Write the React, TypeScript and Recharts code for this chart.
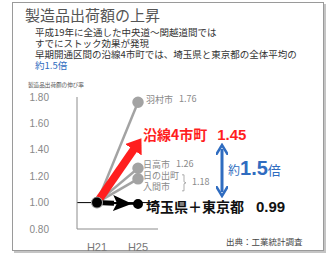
import { LineChart, Line, XAxis, YAxis, ReferenceLine, LabelList } from "recharts";

const years = ["H21", "H25"];
const hamura = [1.0, 1.76];
const ensen4 = [1.0, 1.45];
const hidaka = [1.0, 1.26];
const hinodeIruma = [1.0, 1.18];
const saitamaTokyo = [1.0, 0.99];
const yTicks = [0.8, 1.0, 1.2, 1.4, 1.6, 1.8];
const introLines = [
  "平成19年に全通した中央道〜関越道間では",
  "すでにストック効果が発現",
  "早期開通区間の沿線4市町では、埼玉県と東京都の全体平均の",
];

const data = years.map((year, i) => ({
  year,
  hamura: hamura[i],
  ensen4: ensen4[i],
  hidaka: hidaka[i],
  hinodeIruma: hinodeIruma[i],
  saitamaTokyo: saitamaTokyo[i],
  saitamaArrow: saitamaTokyo[i],
}));

const JP = '"Noto Sans CJK JP", "Noto Sans", sans-serif';
const SANS = '"Liberation Sans", Arial, sans-serif';
const GRAY = "#a3a3a3";
const RED = "#ff1e1e";
const BLUE = "#2f6cc0";

const grayLabel = (name: string, dx: number, dy: number) => (p: any) => {
  if (p.index !== 1) return null;
  return (
    <text x={p.x + dx} y={p.y + dy} fill="#8a8a8a" fontSize={9} fontFamily={JP} dominantBaseline="middle">
      {name}
      <tspan dx={6}>{Number(p.value).toFixed(2)}</tspan>
    </text>
  );
};

const groupLabel = (p: any) => {
  if (p.index !== 1) return null;
  return (
    <g fontFamily={JP} fill="#8a8a8a" fontSize={9}>
      <text x={p.x + 5} y={p.y - 2} dominantBaseline="middle">日の出町</text>
      <text x={p.x + 5} y={p.y + 9} dominantBaseline="middle">入間市</text>
      <path
        d={`M${p.x + 44},${p.y - 4} L${p.x + 46},${p.y - 4} L${p.x + 46},${p.y + 3} L${p.x + 48},${p.y + 4} L${p.x + 46},${p.y + 5} L${p.x + 46},${p.y + 12} L${p.x + 44},${p.y + 12}`}
        stroke="#999"
        fill="none"
        strokeWidth={0.8}
      />
      <text x={p.x + 54} y={p.y + 4} dominantBaseline="middle">{Number(p.value).toFixed(2)}</text>
    </g>
  );
};

const redLabel = (p: any) => {
  if (p.index !== 1) return null;
  return (
    <text x={p.x + 5} y={p.y - 7} fill={RED} fontSize={14} fontWeight="bold" fontFamily={JP} dominantBaseline="middle">
      沿線4市町
      <tspan dx={10} fontFamily={SANS} fontSize={15}>{Number(p.value).toFixed(2)}</tspan>
    </text>
  );
};

const blackLabel = (p: any) => {
  if (p.index !== 1) return null;
  return (
    <text x={p.x + 8} y={p.y + 4} fill="#111" fontSize={14} fontWeight="bold" fontFamily={JP} dominantBaseline="middle">
      埼玉県＋東京都
      <tspan dx={12} fontFamily={SANS} fontSize={15}>{Number(p.value).toFixed(2)}</tspan>
    </text>
  );
};

const redStartDot = (p: any) =>
  p.index === 0 ? <circle key="rs" cx={p.cx} cy={p.cy} r={4} fill={RED} /> : <g key={`r${p.index}`} />;

export default function App() {
  return (
    <div style={{ position: "absolute", left: 0, top: 0, width: 329, height: 254, background: "#fff", overflow: "hidden" }}>
      <svg width={0} height={0} style={{ position: "absolute" }}>
        <defs>
          <marker id="redHead" markerUnits="userSpaceOnUse" markerWidth={22} markerHeight={20} viewBox="0 0 22 20" refX={8} refY={10} orient="auto">
            <path d="M0,0 L14,10 L0,20 Z" fill={RED} />
          </marker>
          <marker id="blackHead" markerUnits="userSpaceOnUse" markerWidth={26} markerHeight={18} viewBox="0 0 26 18" refX={25} refY={9} orient="auto">
            <path d="M0,1 L19,9 L0,17 L4,9 Z" fill="#000" />
          </marker>
          <marker id="blueHead" markerUnits="userSpaceOnUse" markerWidth={12} markerHeight={12} viewBox="0 0 12 12" refX={6} refY={6} orient="auto-start-reverse">
            <path d="M0,0 L10,6 L0,12" fill="none" stroke={BLUE} strokeWidth={2.5} />
          </marker>
        </defs>
      </svg>

      <div
        style={{
          position: "absolute",
          left: 12,
          top: 2,
          width: 310,
          height: 247,
          border: "1px solid #9a9a9a",
          boxShadow: "2px 2px 0 #c4c4c4",
        }}
      />

      <div style={{ position: "absolute", left: 25, top: 5, fontFamily: JP, fontSize: 15, color: "#555", lineHeight: "20px", whiteSpace: "nowrap" }}>
        製造品出荷額の上昇
      </div>
      <div style={{ position: "absolute", left: 35, top: 27, fontFamily: JP, fontSize: 9.5, color: "#333", whiteSpace: "nowrap" }}>
        {introLines.map((t) => (
          <div key={t} style={{ height: 11, lineHeight: "11px", overflow: "visible" }}>{t}</div>
        ))}
        <div style={{ height: 11, lineHeight: "11px", color: BLUE }}>約1.5倍</div>
      </div>
      <div style={{ position: "absolute", left: 28, top: 82, height: 7, lineHeight: "7px", fontFamily: JP, fontSize: 5.6, color: "#555", whiteSpace: "nowrap" }}>
        製造品出荷額の伸び率
      </div>

      <LineChart
        width={329}
        height={254}
        data={data}
        margin={{ top: 97, right: 171, bottom: 5, left: 37 }}
        style={{ position: "absolute", left: 0, top: 0 }}
      >
        <XAxis
          dataKey="year"
          padding={{ left: 20, right: 20 }}
          axisLine={{ stroke: "#8c8c8c" }}
          tickLine={false}
          tickMargin={8}
          height={20}
          tick={{ fontSize: 11, fill: "#777", fontFamily: SANS }}
        />
        <YAxis
          domain={[0.8, 1.8]}
          ticks={yTicks}
          width={40}
          axisLine={{ stroke: "#8c8c8c" }}
          tickLine={false}
          tickMargin={22}
          tickFormatter={(v: number) => v.toFixed(2)}
          tick={{ fontSize: 10, fill: "#888", fontFamily: SANS }}
        />
        <ReferenceLine y={1} stroke="#000" strokeWidth={1} />
        <Line dataKey="hamura" stroke={GRAY} strokeWidth={2.5} dot={{ r: 4.5, fill: GRAY, stroke: GRAY }} isAnimationActive={false}>
          <LabelList dataKey="hamura" content={grayLabel("羽村市", 8, -2)} />
        </Line>
        <Line dataKey="hidaka" stroke={GRAY} strokeWidth={2.5} dot={{ r: 4.5, fill: GRAY, stroke: GRAY }} isAnimationActive={false}>
          <LabelList dataKey="hidaka" content={grayLabel("日高市", 5, -3)} />
        </Line>
        <Line dataKey="hinodeIruma" stroke={GRAY} strokeWidth={2.5} dot={{ r: 4.5, fill: GRAY, stroke: GRAY }} isAnimationActive={false}>
          <LabelList dataKey="hinodeIruma" content={groupLabel} />
        </Line>
        <Line
          dataKey="ensen4"
          stroke={RED}
          strokeWidth={8}
          dot={redStartDot}
          markerEnd="url(#redHead)"
          isAnimationActive={false}
        >
          <LabelList dataKey="ensen4" content={redLabel} />
        </Line>
        <Line dataKey="saitamaTokyo" stroke="#000" strokeWidth={2} dot={{ r: 4, fill: "#000", stroke: "#000" }} isAnimationActive={false}>
          <LabelList dataKey="saitamaTokyo" content={blackLabel} />
        </Line>
        <Line
          dataKey="saitamaArrow"
          stroke="#000"
          strokeWidth={5}
          strokeDasharray="17 100"
          dot={false}
          markerEnd="url(#blackHead)"
          isAnimationActive={false}
        />
      </LineChart>

      <svg width={329} height={254} style={{ position: "absolute", left: 0, top: 0, pointerEvents: "none" }}>
        <line x1={222} y1={149} x2={222} y2={192} stroke={BLUE} strokeWidth={3} markerStart="url(#blueHead)" markerEnd="url(#blueHead)" />
      </svg>
      <div style={{ position: "absolute", left: 228, top: 156, fontFamily: JP, color: BLUE, whiteSpace: "nowrap", lineHeight: "24px" }}>
        <span style={{ fontSize: 12 }}>約</span>
        <span style={{ fontSize: 20, fontWeight: "bold", fontFamily: SANS }}>1.5</span>
        <span style={{ fontSize: 13 }}>倍</span>
      </div>
      <div style={{ position: "absolute", left: 226, top: 235, fontFamily: JP, fontSize: 8.5, color: "#444", whiteSpace: "nowrap" }}>
        出典：工業統計調査
      </div>
    </div>
  );
}
